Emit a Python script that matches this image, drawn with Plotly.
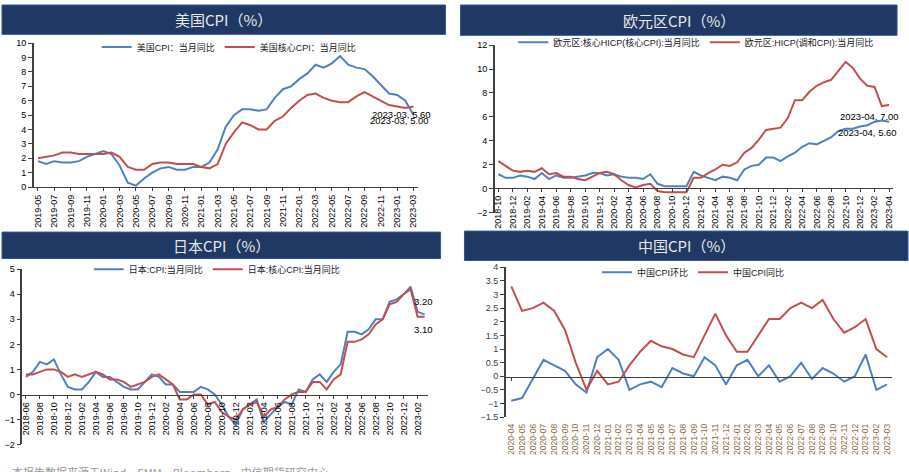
import plotly.graph_objects as go

W, H = 909, 472
BLUE = "#4F81BD"
RED = "#C0504D"
NAVY = "#1F3864"
FONT = "Liberation Sans, Noto Sans CJK SC"

# ---------------- data ----------------
def months(y0, m0, y1, m1):
    out = []
    y, m = y0, m0
    while (y, m) <= (y1, m1):
        out.append(f"{y}-{m:02d}")
        m += 1
        if m > 12:
            y, m = y + 1, 1
    return out

us_months = months(2019, 5, 2023, 3)
us_cpi = [1.8, 1.6, 1.8, 1.7, 1.7, 1.8, 2.1, 2.3, 2.5, 2.3, 1.5, 0.3, 0.1, 0.6, 1.0, 1.3,
          1.4, 1.2, 1.2, 1.4, 1.4, 1.7, 2.6, 4.2, 5.0, 5.4, 5.4, 5.3, 5.4, 6.2, 6.8, 7.0,
          7.5, 7.9, 8.5, 8.3, 8.6, 9.1, 8.5, 8.3, 8.2, 7.7, 7.1, 6.5, 6.4, 6.0, 5.0]
us_core = [2.0, 2.1, 2.2, 2.4, 2.4, 2.3, 2.3, 2.3, 2.3, 2.4, 2.1, 1.4, 1.2, 1.2, 1.6, 1.7,
           1.7, 1.6, 1.6, 1.6, 1.4, 1.3, 1.6, 3.0, 3.8, 4.5, 4.3, 4.0, 4.0, 4.6, 4.9, 5.5,
           6.0, 6.4, 6.5, 6.2, 6.0, 5.9, 5.9, 6.3, 6.6, 6.3, 6.0, 5.7, 5.6, 5.5, 5.6]

ez_months = months(2018, 10, 2023, 4)
ez_core = [1.2, 0.9, 0.9, 1.1, 1.0, 0.8, 1.3, 0.8, 1.1, 0.9, 0.9, 1.0, 1.1, 1.3, 1.3,
           1.1, 1.2, 1.0, 0.9, 0.9, 0.8, 1.2, 0.4, 0.2, 0.2, 0.2, 0.2, 1.4, 1.1, 0.9,
           0.7, 1.0, 0.9, 0.7, 1.6, 1.9, 2.0, 2.6, 2.6, 2.3, 2.7, 3.0, 3.5, 3.8, 3.7,
           4.0, 4.3, 4.8, 5.0, 5.0, 5.2, 5.3, 5.6, 5.7, 5.6]
ez_hicp = [2.3, 1.9, 1.5, 1.4, 1.5, 1.4, 1.7, 1.2, 1.3, 1.0, 1.0, 0.8, 0.7, 1.0, 1.3,
           1.4, 1.2, 0.7, 0.3, 0.1, 0.3, 0.4, -0.2, -0.3, -0.3, -0.3, -0.3, 0.9, 0.9, 1.3,
           1.6, 2.0, 1.9, 2.2, 3.0, 3.4, 4.1, 4.9, 5.0, 5.1, 5.9, 7.4, 7.4, 8.1, 8.6,
           8.9, 9.1, 9.9, 10.6, 10.1, 9.2, 8.6, 8.5, 6.9, 7.0]

jp_months = months(2018, 6, 2023, 3)
jp_cpi = [0.7, 0.9, 1.3, 1.2, 1.4, 0.8, 0.3, 0.2, 0.2, 0.5, 0.9, 0.7, 0.7, 0.5, 0.3,
          0.2, 0.2, 0.5, 0.8, 0.7, 0.4, 0.4, 0.1, 0.1, 0.1, 0.3, 0.2, 0.0, -0.4, -0.9,
          -1.2, -0.6, -0.4, -0.2, -1.1, -0.8, -0.5, -0.3, -0.4, 0.2, 0.1, 0.6, 0.8, 0.5,
          0.9, 1.2, 2.5, 2.5, 2.4, 2.6, 3.0, 3.0, 3.7, 3.8, 4.0, 4.3, 3.3, 3.2]
jp_core = [0.8, 0.8, 0.9, 1.0, 1.0, 0.9, 0.7, 0.8, 0.7, 0.8, 0.9, 0.8, 0.6, 0.6, 0.5,
           0.3, 0.4, 0.5, 0.7, 0.8, 0.6, 0.4, -0.2, -0.2, 0.0, 0.0, -0.4, -0.3, -0.7, -0.9,
           -1.0, -0.6, -0.4, -0.3, -0.9, -0.6, -0.5, -0.2, 0.0, 0.1, 0.1, 0.5, 0.5, 0.2,
           0.6, 0.8, 2.1, 2.1, 2.2, 2.4, 2.8, 3.0, 3.6, 3.7, 4.0, 4.2, 3.1, 3.1]

cn_months = months(2020, 4, 2023, 3)
cn_mom = [-0.9, -0.8, -0.1, 0.6, 0.4, 0.2, -0.3, -0.6, 0.7, 1.0, 0.6, -0.5, -0.3, -0.2,
          -0.4, 0.3, 0.1, 0.0, 0.7, 0.4, -0.3, 0.4, 0.6, 0.0, 0.4, -0.2, 0.0, 0.5, -0.1,
          0.3, 0.1, -0.2, 0.0, 0.8, -0.5, -0.3]
cn_yoy = [3.3, 2.4, 2.5, 2.7, 2.4, 1.7, 0.5, -0.5, 0.2, -0.3, -0.2, 0.4, 0.9, 1.3, 1.1,
          1.0, 0.8, 0.7, 1.5, 2.3, 1.5, 0.9, 0.9, 1.5, 2.1, 2.1, 2.5, 2.7, 2.5, 2.8, 2.1,
          1.6, 1.8, 2.1, 1.0, 0.7]

titles = ["美国CPI（%）", "欧元区CPI（%）", "日本CPI（%）", "中国CPI（%）"]

# ---------------- helpers ----------------
def fx(px):
    return px / W

def fy(py):
    return 1 - py / H

fig = go.Figure()

def add_series(idx, cats, vals, name, color, legend):
    sfx = "" if idx == 1 else str(idx)
    fig.add_trace(go.Scatter(x=cats, y=vals, mode="lines", name=name,
                             line=dict(color=color, width=2),
                             xaxis="x" + sfx, yaxis="y" + sfx,
                             legend=legend, hoverinfo="skip"))

add_series(1, us_months, us_cpi, "美国CPI：当月同比", BLUE, "legend")
add_series(1, us_months, us_core, "美国核心CPI：当月同比", RED, "legend")
add_series(2, ez_months, ez_core, "欧元区:核心HICP(核心CPI):当月同比", BLUE, "legend2")
add_series(2, ez_months, ez_hicp, "欧元区:HICP(调和CPI):当月同比", RED, "legend2")
add_series(3, jp_months, jp_cpi, "日本:CPI:当月同比", BLUE, "legend3")
add_series(3, jp_months, jp_core, "日本:核心CPI:当月同比", RED, "legend3")
add_series(4, cn_months, cn_mom, "中国CPI环比", BLUE, "legend4")
add_series(4, cn_months, cn_yoy, "中国CPI同比", RED, "legend4")
# invisible trace so the zero-line tick axis of the China panel is drawn
fig.add_trace(go.Scatter(x=[cn_months[0]], y=[0], mode="lines", xaxis="x5", yaxis="y4",
                         showlegend=False, hoverinfo="skip", line=dict(width=0),
                         opacity=0))

def xaxis(cats, dom, step, pos=None, yname="y", color="#000000", size=9):
    d = dict(type="category", domain=[fx(dom[0]), fx(dom[1])],
             range=[-0.5, len(cats) - 0.5],
             tickmode="array", tickvals=cats[::step], ticktext=cats[::step],
             tickangle=-90, tickfont=dict(family=FONT, size=size, color=color),
             showgrid=False, zeroline=False, showline=True, linecolor="#404040",
             linewidth=1, ticks="outside", ticklen=3, tickcolor="#404040",
             fixedrange=True)
    if pos is None:
        d["anchor"] = yname
    else:
        d["anchor"] = "free"
        d["position"] = fy(pos)
    return d

def yaxis(rng, dom, dtick, xname, color="#000000"):
    return dict(range=rng, domain=[fy(dom[1]), fy(dom[0])], dtick=dtick,
                tick0=rng[0], anchor=xname, showgrid=False, zeroline=False,
                showline=True, linecolor="#404040", linewidth=1.5,
                ticks="outside", ticklen=4, tickcolor="#404040",
                tickfont=dict(family=FONT, size=9, color=color), fixedrange=True)

cn_dom = (505.6, 893.4)
x4 = xaxis(cn_months, cn_dom, 1, yname="y4", color="#8a6a40", size=8.5)
x4.update(showline=False, ticks="", ticklabelstandoff=4)
x5 = xaxis(cn_months, cn_dom, 1, pos=380)
x5.update(showticklabels=False, overlaying="x4")

layout = dict(
    width=W, height=H, margin=dict(l=0, r=0, t=0, b=0),
    paper_bgcolor="white", plot_bgcolor="rgba(0,0,0,0)",
    font=dict(family=FONT, size=9, color="#000"),
    xaxis=xaxis(us_months, (32, 417), 2, yname="y"),
    yaxis=yaxis([0, 10], (39, 186), 1, "x"),
    xaxis2=xaxis(ez_months, (494.4, 893.6), 2, pos=187),
    yaxis2=yaxis([-2, 12], (41, 212), 2, "x2"),
    xaxis3=xaxis(jp_months, (20.5, 427.5), 2, pos=398),
    yaxis3=yaxis([-2, 5], (270, 449), 1, "x3"),
    xaxis4=x4,
    xaxis5=x5,
    yaxis4=yaxis([-1.5, 4], (268, 421), 0.5, "x4", color="#404040"),
)

def legend_cfg(xpx, ypx):
    return dict(orientation="h", x=fx(xpx), y=fy(ypx), xanchor="left", yanchor="middle",
                bgcolor="rgba(0,0,0,0)", font=dict(family=FONT, size=9, color="#222"),
                itemwidth=30, tracegroupgap=0, entrywidthmode="pixels")

layout["legend"] = legend_cfg(95, 43)
layout["legend2"] = legend_cfg(513, 38)
layout["legend3"] = legend_cfg(87, 270)
layout["legend4"] = legend_cfg(597, 273)
fig.update_layout(**layout)

# headers
headers = [(0, 0, 445, 30), (460, 0, 898, 31), (0, 232, 440, 259), (464, 231, 909, 261)]
for (x0, y0, x1, y1), t in zip(headers, titles):
    fig.add_shape(type="rect", xref="paper", yref="paper",
                  x0=fx(x0), x1=fx(x1), y0=fy(y1), y1=fy(y0),
                  fillcolor=NAVY, line=dict(color="#2E5597", width=1), layer="below")
    fig.add_annotation(xref="paper", yref="paper", x=fx((x0 + x1) / 2), y=fy((y0 + y1) / 2),
                       text=t, showarrow=False, xanchor="center", yanchor="middle",
                       font=dict(family="Noto Sans CJK SC", size=15, color="#E8E8E8"))

# end-point labels
labels = [
    ("2023-03, 5.60", 401, 112),
    ("2023-03, 5.00", 399, 118),
    ("2023-04, 7.00", 870, 114),
    ("2023-04, 5.60", 868, 130),
    ("3.20", 423, 303),
    ("3.10", 423, 332),
]
for t, x, y in labels:
    fig.add_annotation(xref="paper", yref="paper", x=fx(x), y=fy(y), text=t,
                       showarrow=False, xanchor="center", yanchor="middle",
                       font=dict(family=FONT, size=9.5, color="#000"))

# footer (mostly clipped, as in the source)
fig.add_annotation(xref="paper", yref="paper", x=fx(8), y=fy(477), xanchor="left",
                   yanchor="middle", showarrow=False,
                   text="本报告数据来源于Wind、SMM、Bloomberg、中信期货研究中心",
                   font=dict(family="Noto Sans CJK SC", size=11, color="#9a9a9a"))

fig.write_html("out.html")
